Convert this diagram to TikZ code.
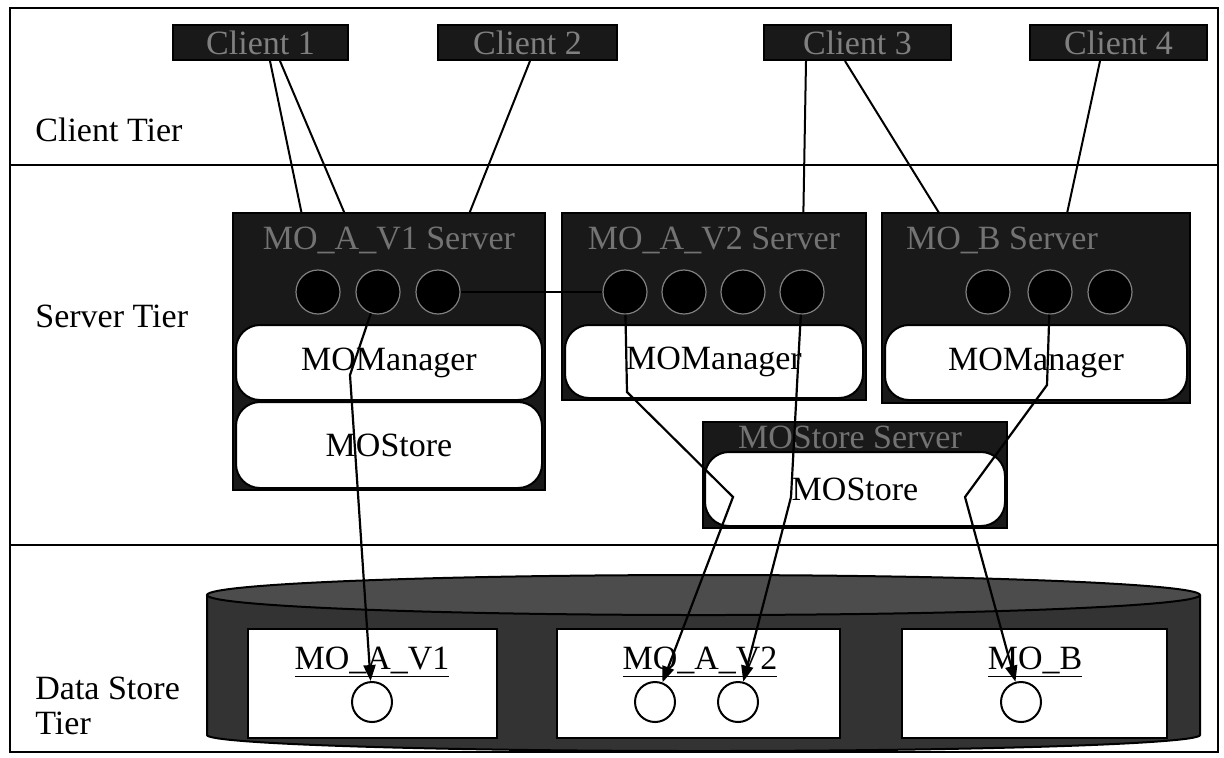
\documentclass[tikz,border=0pt]{standalone}
\usepackage{fontspec}
\setmainfont{Liberation Serif}
\usetikzlibrary{arrows.meta}
\pgfdeclarelayer{back}
\pgfsetlayers{back,main}

\tikzset{
  txt/.style={font=\fontsize{17pt}{17.5pt}\selectfont},
  frameline/.style={line width=1.1pt},
  clientbox/.style={draw=black, fill=black!90, line width=1pt, minimum height=17.5pt,
    inner sep=0pt, text=black!50, txt},
  serverbox/.style={draw=black, fill=black!90, line width=1pt, inner sep=0pt},
  srvtitle/.style={text=black!55, txt, inner sep=0pt},
  port/.style={circle, fill=black, draw=black!50, line width=0.6pt, minimum size=22pt, inner sep=0pt},
  module/.style={draw=black, fill=white, rounded corners=12pt, line width=1pt, inner sep=0pt, txt},
  storebox/.style={draw=black, fill=white, line width=1pt, inner sep=0pt},
  record/.style={circle, draw=black, fill=white, line width=1pt, minimum size=20pt, inner sep=0pt},
  reclabel/.style={txt, inner sep=0pt},
  tierlabel/.style={txt, inner sep=0pt, anchor=west, align=left},
  link/.style={line width=1pt},
  flow/.style={line width=1.1pt, -{Triangle[length=8pt,width=6pt]}},
}

\begin{document}
\begin{tikzpicture}[x=0.5pt,y=-0.5pt]
\useasboundingbox (0,0) rectangle (1224,757);

% tier frame
\draw[frameline] (10,8) rectangle (1218,752);
\draw[frameline] (10,165) -- (1218,165);
\draw[frameline] (10,545) -- (1218,545);
\node[tierlabel] (tierC) at (35,130) {Client Tier};
\node[tierlabel] (tierS) at (35,316) {Server Tier};
\node[tierlabel] (tierD) at (35,706) {Data Store\\Tier};

% clients
\node[clientbox, minimum width=87.5pt] (c1) at (260.5,42.5) {Client 1};
\node[clientbox, minimum width=89.5pt] (c2) at (527.5,42.5) {Client 2};
\node[clientbox, minimum width=93.5pt] (c3) at (857.5,42.5) {Client 3};
\node[clientbox, minimum width=88.5pt] (c4) at (1118.5,42.5) {Client 4};

% MO_A_V1 server
\node[serverbox, minimum width=156pt, minimum height=138.5pt] (sv1) at (389,351.5) {};
\node[srvtitle] (sv1t) at (389,240) {MO\_A\_V1 Server};
\node[port] (pa1) at (318,292) {};
\node[port] (pa2) at (378,292) {};
\node[port] (pa3) at (438,292) {};
\node[module, minimum width=153pt, minimum height=37.5pt] (mm1) at (389,362.5) {MOManager};
\node[module, minimum width=153pt, minimum height=43pt] (ms1) at (389,445) {MOStore};

% MO_A_V2 server
\node[serverbox, minimum width=152pt, minimum height=93.5pt] (sv2) at (714,306.5) {};
\node[srvtitle] (sv2t) at (714,240) {MO\_A\_V2 Server};
\node[port] (pv1) at (625,292) {};
\node[port] (pv2) at (684,292) {};
\node[port] (pv3) at (743,292) {};
\node[port] (pv4) at (802,292) {};
\node[module, minimum width=149pt, minimum height=36.5pt] (mm2) at (714,361.5) {MOManager};

% MO_B server
\node[serverbox, minimum width=154pt, minimum height=95pt] (sv3) at (1036,308) {};
\node[srvtitle] (sv3t) at (1002,240) {MO\_B Server};
\node[port] (pb1) at (988,292) {};
\node[port] (pb2) at (1050,292) {};
\node[port] (pb3) at (1110,292) {};
\node[module, minimum width=151pt, minimum height=37.5pt] (mm3) at (1036,362.5) {MOManager};

% MOStore server
\node[serverbox, minimum width=152pt, minimum height=53pt] (sv4) at (855,475) {};
\node[srvtitle] (sv4t) at (850,437) {MOStore Server};
\node[module, minimum width=150pt, minimum height=37pt] (ms4) at (855,489) {MOStore};

% data store cylinder
\fill[black!80] (207,595) -- (207,735) arc[start angle=180, end angle=0, x radius=496.5, y radius=16]
  -- (1200,595) -- cycle;
\draw[line width=1pt] (207,595) -- (207,735) arc[start angle=180, end angle=0, x radius=496.5, y radius=16]
  -- (1200,595);
\draw[line width=1pt, fill=black!70] (703.5,595) ellipse[x radius=496.5, y radius=20];

% records
\node[storebox, minimum width=124.5pt, minimum height=54.5pt] (db1) at (372.5,683.5) {};
\node[storebox, minimum width=141.5pt, minimum height=54.5pt] (db2) at (698.5,683.5) {};
\node[storebox, minimum width=132.5pt, minimum height=54.5pt] (db3) at (1034.5,683.5) {};
\node[reclabel] (l1) at (372,662) {\underline{MO\_A\_V1}};
\node[reclabel] (l2) at (700,662) {\underline{MO\_A\_V2}};
\node[reclabel] (l3) at (1035,662) {\underline{MO\_B}};
\node[record] (r1) at (372,702) {};
\node[record] (r2) at (655,702) {};
\node[record] (r3) at (738,702) {};
\node[record] (r4) at (1021,702) {};

% client requests, running behind the server boxes
\begin{pgfonlayer}{back}
\draw[link] ([xshift=4.75pt]c1.south) -- (pa1.center);
\draw[link] ([xshift=9.75pt]c1.south) -- (pa2.center);
\draw[link] ([xshift=1.25pt]c2.south) -- (pa3.center);
\draw[link] ([xshift=-25.75pt]c3.south) -- (pv4.center);
\draw[link] ([xshift=-6.25pt]c3.south) -- (pb1.center);
\draw[link] ([xshift=-9.25pt]c4.south) -- (pb2.center);
\end{pgfonlayer}

% bend points of the storage paths
\coordinate (k1) at (350,375);
\coordinate (k3) at (627,392);
\coordinate (k4) at (733,497);
\coordinate (k5) at (791,497);
\coordinate (k6) at (1047,385);
\coordinate (k7) at (965,497);

% server-to-server link and storage paths
\draw[link] (pa3) -- (pv1);
\draw[flow] (pa2) -- (k1) -- (r1);
\draw[flow] (pv1) -- (k3) -- (k4) -- (r2);
\draw[flow] (pv4) -- (k5) -- (r3);
\draw[flow] (pb2) -- (k6) -- (k7) -- (r4);
\end{tikzpicture}
\end{document}
